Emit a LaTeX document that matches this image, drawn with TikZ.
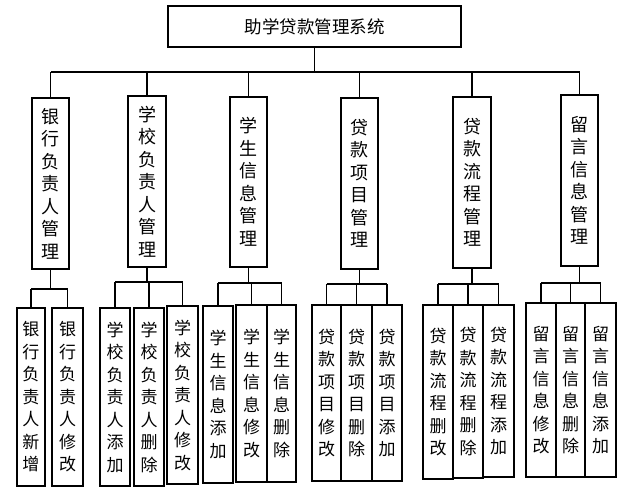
\documentclass[tikz,border=0pt]{standalone}
\usepackage{fontspec}
\newfontfamily\cjk{Noto Sans CJK SC}
\tikzset{
  box/.style={draw, line width=1.2pt, inner sep=0pt, align=center},
  topbox/.style={box, font=\cjk\fontsize{17.5}{20}\selectfont},
  modbox/.style={box, minimum height=171, font=\cjk\fontsize{18}{22.5}\selectfont},
  subbox/.style={box, font=\cjk\fontsize{17}{22.5}\selectfont},
  link/.style={line width=1.2pt},
}
\begin{document}
\begin{tikzpicture}[x=1pt, y=-1pt]
  \useasboundingbox (0,0) rectangle (635,490);
  % root
  \node[topbox, minimum width=293, minimum height=41] (root) at (314.5,26.5) {助学贷款管理系统};
  % modules
  \node[modbox, minimum width=37] (bank) at (50.5,183.5) {银\\行\\负\\责\\人\\管\\理};
  \node[modbox, minimum width=38] (school) at (147,181.5) {学\\校\\负\\责\\人\\管\\理};
  \node[modbox, minimum width=37, minimum height=170] (stu) at (248.5,182) {学\\生\\信\\息\\管\\理};
  \node[modbox, minimum width=37] (proj) at (359.5,183.5) {贷\\款\\项\\目\\管\\理};
  \node[modbox, minimum width=38] (flow) at (472,182.5) {贷\\款\\流\\程\\管\\理};
  \node[modbox, minimum width=37] (msg) at (579.5,180.5) {留\\言\\信\\息\\管\\理};
  % bank functions
  \node[subbox, minimum width=28, minimum height=178] (bankA) at (31,397) {银\\行\\负\\责\\人\\新\\增};
  \node[subbox, minimum width=31, minimum height=178] (bankB) at (67.5,397) {银\\行\\负\\责\\人\\修\\改};
  % school functions
  \node[subbox, minimum width=30, minimum height=178] (schoolA) at (115,397) {学\\校\\负\\责\\人\\添\\加};
  \node[subbox, minimum width=30, minimum height=178] (schoolB) at (149,397) {学\\校\\负\\责\\人\\删\\除};
  \node[subbox, minimum width=31, minimum height=178] (schoolC) at (182.5,395) {学\\校\\负\\责\\人\\修\\改};
  % student functions
  \node[subbox, minimum width=30, minimum height=177] (stuA) at (218,394.5) {学\\生\\信\\息\\添\\加};
  \node[subbox, minimum width=31, minimum height=177] (stuB) at (251.5,393.5) {学\\生\\信\\息\\修\\改};
  \node[subbox, minimum width=29, minimum height=177] (stuC) at (281.5,393.5) {学\\生\\信\\息\\删\\除};
  % project functions
  \node[subbox, minimum width=29, minimum height=176] (projA) at (326.5,393) {贷\\款\\项\\目\\修\\改};
  \node[subbox, minimum width=31, minimum height=176] (projB) at (356.5,393) {贷\\款\\项\\目\\删\\除};
  \node[subbox, minimum width=30, minimum height=176] (projC) at (387,393) {贷\\款\\项\\目\\添\\加};
  % flow functions
  \node[subbox, minimum width=30, minimum height=174] (flowA) at (438,392) {贷\\款\\流\\程\\删\\改};
  \node[subbox, minimum width=30, minimum height=173] (flowB) at (468,391.5) {贷\\款\\流\\程\\删\\除};
  \node[subbox, minimum width=31, minimum height=172] (flowC) at (498.5,391) {贷\\款\\流\\程\\添\\加};
  % message functions
  \node[subbox, minimum width=30, minimum height=174] (msgA) at (541,390) {留\\言\\信\\息\\修\\改};
  \node[subbox, minimum width=29, minimum height=174] (msgB) at (570.5,390) {留\\言\\信\\息\\删\\除};
  \node[subbox, minimum width=31, minimum height=174] (msgC) at (600.5,390) {留\\言\\信\\息\\添\\加};
  % busses
  \coordinate (bus) at (314,72);
  \coordinate (bankbus) at (50,289);
  \coordinate (schoolbus) at (149,282);
  \coordinate (stubus) at (250,283);
  \coordinate (projbus) at (358,284);
  \coordinate (flowbus) at (473,284);
  \coordinate (msgbus) at (573,283);
  % connectors
  \draw[link] (root.south) -- (root.south |- bus);
  \draw[link] (bank.north |- bus) -- (msg.north |- bus);
  \foreach \m in {bank,school,stu,proj,flow,msg}
    \draw[link] (\m.north) -- (\m.north |- bus);
  \draw[link] (bank.south) -- (bank.south |- bankbus);
  \draw[link] (bankA.north |- bankbus) -- (bankB.north |- bankbus);
  \foreach \s in {bankA,bankB}
    \draw[link] (\s.north) -- (\s.north |- bankbus);
  \draw[link] (school.south) -- (school.south |- schoolbus);
  \draw[link] (schoolA.north |- schoolbus) -- (schoolC.north |- schoolbus);
  \foreach \s in {schoolA,schoolB,schoolC}
    \draw[link] (\s.north) -- (\s.north |- schoolbus);
  \draw[link] (stu.south) -- (stu.south |- stubus);
  \draw[link] (stuA.north |- stubus) -- (stuC.north |- stubus);
  \foreach \s in {stuA,stuB,stuC}
    \draw[link] (\s.north) -- (\s.north |- stubus);
  \draw[link] (proj.south) -- (proj.south |- projbus);
  \draw[link] (projA.north |- projbus) -- (projC.north |- projbus);
  \foreach \s in {projA,projB,projC}
    \draw[link] (\s.north) -- (\s.north |- projbus);
  \draw[link] (flow.south) -- (flow.south |- flowbus);
  \draw[link] (flowA.north |- flowbus) -- (flowC.north |- flowbus);
  \foreach \s in {flowA,flowB,flowC}
    \draw[link] (\s.north) -- (\s.north |- flowbus);
  \draw[link] (msg.south) -- (msg.south |- msgbus);
  \draw[link] (msgA.north |- msgbus) -- (msgC.north |- msgbus);
  \foreach \s in {msgA,msgB,msgC}
    \draw[link] (\s.north) -- (\s.north |- msgbus);
\end{tikzpicture}
\end{document}
